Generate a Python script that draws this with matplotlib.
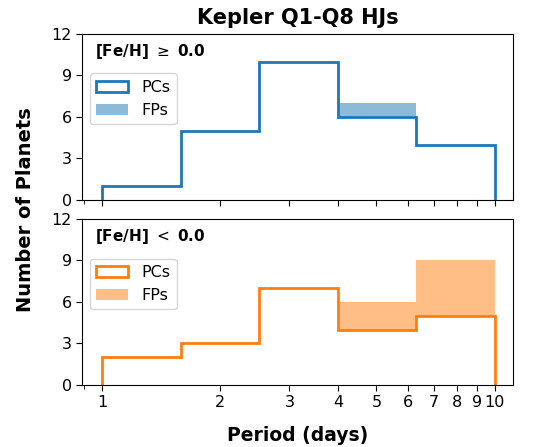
import numpy as np
import matplotlib.pyplot as plt
from matplotlib.patches import Patch
from matplotlib.ticker import FixedLocator, NullFormatter

# -----------------------------
# Data
# -----------------------------
bin_edges = np.logspace(0, 1, 6)          # 1 ... 10 days, 5 log bins
pc_rich = [1, 5, 10, 6, 4]                # [Fe/H] >= 0.0, planet candidates
fp_rich = [0, 0, 0, 1, 0]                 # false positives
pc_poor = [2, 3, 7, 4, 5]                 # [Fe/H] < 0.0
fp_poor = [0, 0, 0, 2, 4]
panel_labels = [r"[Fe/H] $\geq$ 0.0", r"[Fe/H] $<$ 0.0"]
colors = ["C0", "C1"]
xtick_vals = [1, 2, 3, 4, 5, 6, 7, 8, 9, 10]


def draw_panel(ax, pc, fp, color, label):
    pc = np.asarray(pc, dtype=float)
    total = pc + np.asarray(fp, dtype=float)
    ax.stairs(total, bin_edges, baseline=pc, fill=True, color=color,
              alpha=0.5, lw=0)
    ax.stairs(pc, bin_edges, baseline=0, color=color, lw=2)
    ax.set_xscale("log")
    ax.set_xlim(0.89, 11.15)
    ax.set_ylim(0, 12)
    ax.set_yticks([0, 3, 6, 9, 12])
    ax.xaxis.set_major_locator(FixedLocator(xtick_vals))
    ax.xaxis.set_minor_locator(FixedLocator([0.9]))
    ax.xaxis.set_minor_formatter(NullFormatter())
    ax.tick_params(labelsize=11.5, length=4)
    ax.tick_params(which="minor", length=3)
    ax.text(0.03, 0.895, label, transform=ax.transAxes, fontsize=11,
            fontweight="bold", va="center", ha="left")
    handles = [Patch(facecolor="none", edgecolor=color, lw=2),
               Patch(facecolor=color, alpha=0.5, lw=0)]
    ax.legend(handles, ["PCs", "FPs"], loc="upper left",
              bbox_to_anchor=(0.0, 0.81), fontsize=11.5)


fig = plt.figure(figsize=(5.33, 4.47), dpi=100)
ax_top = fig.add_axes([0.154, 0.553, 0.809, 0.371])
ax_bot = fig.add_axes([0.154, 0.139, 0.809, 0.371])

draw_panel(ax_top, pc_rich, fp_rich, colors[0], panel_labels[0])
draw_panel(ax_bot, pc_poor, fp_poor, colors[1], panel_labels[1])

ax_top.set_xticklabels([])
ax_bot.set_xticklabels([str(v) for v in xtick_vals])

ax_top.set_title("Kepler Q1-Q8 HJs", fontsize=15, fontweight="bold", pad=7)
ax_bot.set_xlabel("Period (days)", fontsize=13.5, fontweight="bold", labelpad=11)
fig.text(0.047, 0.53, "Number of Planets", rotation=90, fontsize=14,
         fontweight="bold", ha="center", va="center")

fig.savefig("out.png", dpi=100)
